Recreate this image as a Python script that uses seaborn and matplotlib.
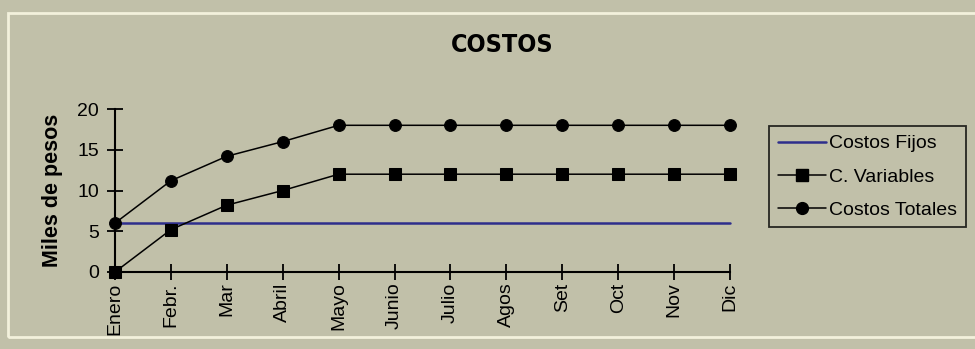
import seaborn as sns
import matplotlib.pyplot as plt
from matplotlib.patches import Rectangle
from matplotlib.lines import Line2D

meses = ["Enero", "Febr.", "Mar", "Abril", "Mayo", "Junio", "Julio",
         "Agos", "Set", "Oct", "Nov", "Dic"]
costos_fijos = [6, 6, 6, 6, 6, 6, 6, 6, 6, 6, 6, 6]
costos_variables = [0, 5.2, 8.2, 10, 12, 12, 12, 12, 12, 12, 12, 12]
costos_totales = [6, 11.2, 14.2, 16, 18, 18, 18, 18, 18, 18, 18, 18]
y_ticks = [0, 5, 10, 15, 20]

BG = "#c1c0a9"
BLUE = "#2e2e8c"


def main():
    sns.set_style("white", {"text.color": "black", "axes.labelcolor": "black",
                            "xtick.color": "black", "ytick.color": "black"})
    plt.rcParams["font.family"] = ["Liberation Sans", "DejaVu Sans"]

    W, H = 975, 349
    fig = plt.figure(figsize=(W / 100, H / 100), dpi=100, facecolor=BG)
    ax = fig.add_axes([115 / W, 1 - 272 / H, (730 - 115) / W, (272 - 109) / H])
    ax.set_facecolor(BG)

    # light frame around chart area
    fig.patches.append(Rectangle((8 / W, 1 - 337 / H), 1.0, (337 - 13) / H,
                                 transform=fig.transFigure, fill=False,
                                 edgecolor="#f3f1dc", lw=2))

    sns.lineplot(x=meses, y=costos_fijos, ax=ax, color=BLUE, lw=1.8,
                 sort=False, label="Costos Fijos")
    sns.lineplot(x=meses, y=costos_variables, ax=ax, color="black", lw=1.1,
                 marker="s", markersize=8.5, markeredgecolor="black",
                 sort=False, label="C. Variables")
    sns.lineplot(x=meses, y=costos_totales, ax=ax, color="black", lw=1.1,
                 marker="o", markersize=8.5, markeredgecolor="black",
                 sort=False, label="Costos Totales")
    for ln in ax.lines:
        ln.set_clip_on(False)

    ax.set_xlim(0, len(meses) - 1)
    ax.set_ylim(0, 20)
    ax.set_yticks(y_ticks)
    ax.set_xticks(range(len(meses)))
    ax.set_xticklabels(meses, rotation=90, fontsize=14)
    ax.tick_params(axis="y", labelsize=14, pad=6)
    ax.tick_params(axis="both", direction="inout", length=11, width=1.3,
                   color="black", labelcolor="black", bottom=True, left=True)
    ax.tick_params(axis="x", pad=2)
    for s in ["top", "right"]:
        ax.spines[s].set_visible(False)
    for s in ["left", "bottom"]:
        ax.spines[s].set_color("black")
        ax.spines[s].set_linewidth(1.5)

    ax.set_xlabel("")
    ax.set_ylabel("Miles de pesos", fontsize=15.5, fontweight="bold",
                  labelpad=10, color="black")

    fig.text(502 / W, 1 - 45 / H, "COSTOS", ha="center", va="center",
             fontsize=18, fontweight="bold", family="DejaVu Sans",
             fontstretch="condensed", color="black")

    handles = [
        Line2D([], [], color=BLUE, lw=1.8),
        Line2D([], [], color="black", lw=1.1, marker="s", markersize=8.5),
        Line2D([], [], color="black", lw=1.1, marker="o", markersize=8.5),
    ]
    leg = ax.legend(handles, ["Costos Fijos", "C. Variables", "Costos Totales"],
                    loc="upper left", bbox_to_anchor=(769 / W, 1 - 126 / H),
                    bbox_transform=fig.transFigure, borderaxespad=0,
                    fontsize=14, frameon=True, fancybox=False, shadow=False,
                    facecolor=BG, edgecolor="black", handlelength=2.5,
                    handletextpad=0.15, labelspacing=0.8, borderpad=0.45)
    leg.get_frame().set_linewidth(1.3)
    for t in leg.get_texts():
        t.set_color("black")

    fig.savefig("out.png", dpi=100, facecolor=BG)
    plt.close(fig)


if __name__ == "__main__":
    main()
